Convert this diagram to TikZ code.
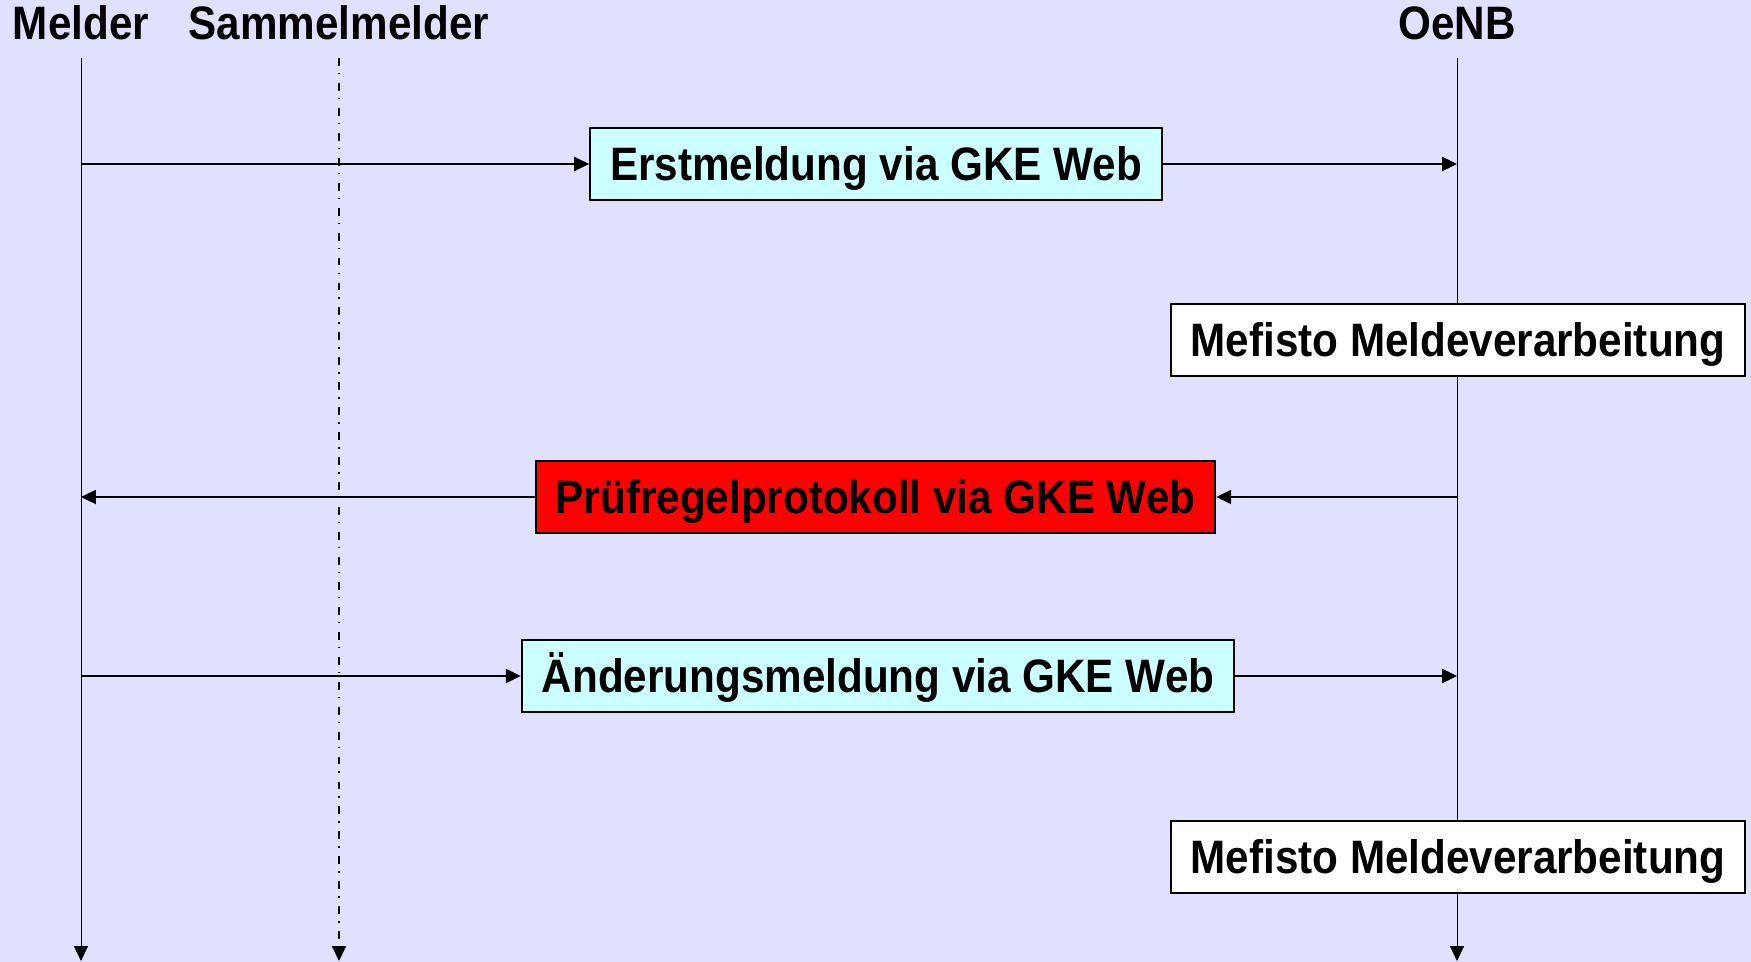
\documentclass[tikz,border=0pt]{standalone}
\usepackage{fontspec}
\setmainfont{Liberation Sans}[FakeStretch=0.9]
\usetikzlibrary{positioning, backgrounds, arrows.meta}
\usepackage{xcolor}
\definecolor{bg-color}{HTML}{E0E0FF}
\definecolor{msg-color}{HTML}{CCFFFF}
\definecolor{err-color}{HTML}{FF0000}

\begin{document}
\begin{tikzpicture}[x=0.02cm, y=-0.02cm, >={Triangle[length=8.5pt, width=8pt]}, line width=1.1pt]

\begin{scope}[every node/.style={font=\bfseries\fontsize{26.7}{32}\selectfont, inner sep=0pt, anchor=base}]
\node(melder) at (81,40)   {Melder};
\node(sammel) at (339,40)  {Sammelmelder};
\node(oenb)   at (1457,40) {OeNB};
\end{scope}

\coordinate(top)    at (0,58);
\coordinate(bottom) at (0,961);

\begin{scope}[every node/.style={draw, fill=#1, font=\bfseries\fontsize{26.7}{32}\selectfont,
  inner xsep=0.4cm, text height=19.1pt, text depth=0pt, minimum height=1.44cm},
  every node/.default=white]
\node[fill=msg-color](erst)  at (876,164)   {Erstmeldung via GKE Web};
\node(mef1)                  at (1458,340)  {Mefisto Meldeverarbeitung};
\node[fill=err-color](pruef) at (875.5,497) {Prüfregelprotokoll via GKE Web};
\node[fill=msg-color](aend)  at (878,676)   {Änderungsmeldung via GKE Web};
\node(mef2)                  at (1458,857)  {Mefisto Meldeverarbeitung};
\end{scope}

\draw[->] (melder |- erst) -- (erst);
\draw[->] (erst) -- (oenb |- erst);
\draw[->] (oenb |- pruef) -- (pruef);
\draw[->] (pruef) -- (melder |- pruef);
\draw[->] (melder |- aend) -- (aend);
\draw[->] (aend) -- (oenb |- aend);

\begin{scope}[on background layer]
\fill[bg-color] (0,0) rectangle (1751,962);
\draw[->] (melder |- top) -- (melder |- bottom);
\draw[->, line width=0.8pt, dash pattern=on 4.5pt off 4pt on 0.8pt off 4.9pt] (sammel |- top) -- (sammel |- bottom);
\draw[->] (oenb |- top) -- (oenb |- bottom);
\end{scope}

\end{tikzpicture}
\end{document}
